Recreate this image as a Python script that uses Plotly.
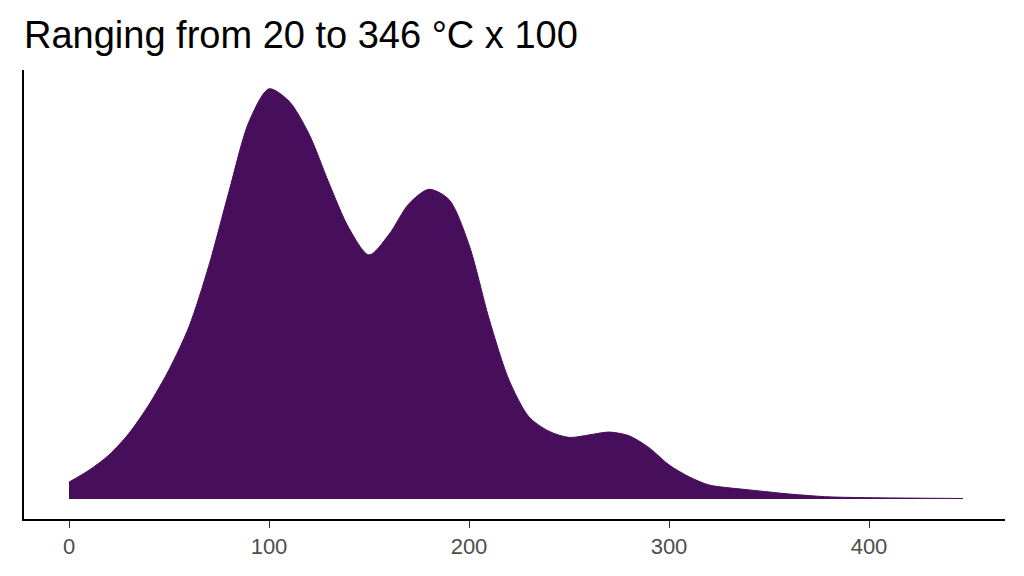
import plotly.graph_objects as go

x_vals = [0,10,20,30,40,50,60,70,80,90,100,110,120,130,140,150,160,170,180,190,200,210,220,230,240,250,260,270,280,290,300,310,320,330,340,350,360,380,400,420,447]
density = [0.041,0.07,0.107,0.16,0.23,0.315,0.42,0.57,0.75,0.92,1.0,0.97,0.89,0.77,0.66,0.595,0.645,0.72,0.755,0.73,0.62,0.44,0.29,0.2,0.165,0.15,0.156,0.163,0.154,0.125,0.083,0.054,0.034,0.027,0.022,0.017,0.012,0.005,0.003,0.002,0.001]
tick_vals = [0,100,200,300,400]

fig = go.Figure(go.Scatter(x=x_vals, y=density, mode="lines", line=dict(shape="spline", smoothing=0.8, color="#470E5C", width=1),
                           fill="tozeroy", fillcolor="#470E5C", hoverinfo="skip"))
fig.update_layout(
    width=1024, height=576, paper_bgcolor="white", plot_bgcolor="white",
    margin=dict(l=16, r=27, t=62, b=65), showlegend=False,
    font=dict(family="Liberation Sans, Arial, sans-serif"),
    title=dict(text="Ranging from 20 to 346 °C x 100", x=0.0156, xanchor="left", y=0.953, yanchor="middle",
               font=dict(size=38, color="black")),
    xaxis=dict(range=[-22.5, 468], tickvals=tick_vals, showgrid=False, zeroline=False,
               showline=True, linecolor="black", linewidth=2, ticks="outside", ticklen=7, tickcolor="#333",
               tickfont=dict(size=22, color="#4d4d4d")),
    yaxis=dict(range=[-0.049, 1.046], showgrid=False, zeroline=False, showticklabels=False,
               showline=True, linecolor="black", linewidth=2),
)
fig.write_html("out.html")
